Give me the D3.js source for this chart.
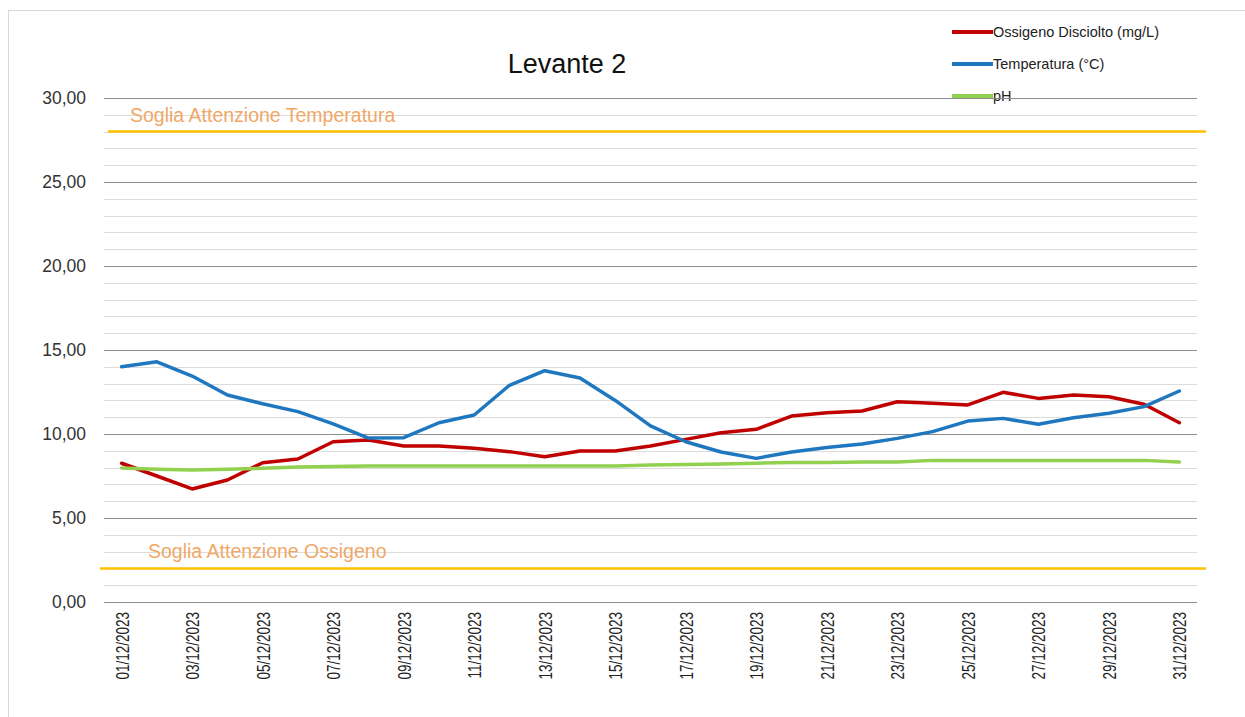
<!DOCTYPE html>
<html>
<head>
<meta charset="utf-8">
<script src="https://cdn.jsdelivr.net/npm/d3@7"></script>
<style>
  body { margin: 0; background: #fff; }
  svg text { font-family: "Liberation Sans", Arial, sans-serif; }
</style>
</head>
<body>
<script>
var dates = [
  "01/12/2023", "02/12/2023", "03/12/2023", "04/12/2023", "05/12/2023", "06/12/2023",
  "07/12/2023", "08/12/2023", "09/12/2023", "10/12/2023", "11/12/2023", "12/12/2023",
  "13/12/2023", "14/12/2023", "15/12/2023", "16/12/2023", "17/12/2023", "18/12/2023",
  "19/12/2023", "20/12/2023", "21/12/2023", "22/12/2023", "23/12/2023", "24/12/2023",
  "25/12/2023", "26/12/2023", "27/12/2023", "28/12/2023", "29/12/2023", "30/12/2023",
  "31/12/2023"
];

var ossigeno = [8.26, 7.5, 6.73, 7.26, 8.29, 8.51, 9.54, 9.64, 9.29, 9.29, 9.15, 8.95,
  8.65, 8.99, 8.99, 9.29, 9.68, 10.08, 10.28, 11.07, 11.27, 11.37, 11.92, 11.83,
  11.73, 12.48, 12.12, 12.32, 12.22, 11.77, 10.67];

var temperatura = [14.0, 14.3, 13.45, 12.32, 11.8, 11.33, 10.6, 9.76, 9.78, 10.67, 11.13, 12.9,
  13.77, 13.33, 12.0, 10.48, 9.54, 8.93, 8.55, 8.93, 9.2, 9.4, 9.74, 10.14,
  10.77, 10.93, 10.58, 10.97, 11.23, 11.63, 12.56];

var ph = [7.98, 7.9, 7.86, 7.9, 7.96, 8.04, 8.07, 8.1, 8.1, 8.1, 8.1, 8.1,
  8.1, 8.1, 8.1, 8.15, 8.18, 8.22, 8.26, 8.3, 8.3, 8.33, 8.33, 8.43,
  8.43, 8.43, 8.43, 8.43, 8.43, 8.43, 8.33];

var seriesNames = ["Ossigeno Disciolto (mg/L)", "Temperatura (°C)", "pH"];
var seriesColors = ["#c00000", "#1f77c0", "#92d050"];

var yTicks = [0, 5, 10, 15, 20, 25, 30];
var thresholds = [
  { label: "Soglia Attenzione Temperatura", value: 28 },
  { label: "Soglia Attenzione Ossigeno", value: 2 }
];

var width = 1245,
  height = 717;
var plot = { left: 104, right: 1197, top: 98, bottom: 602 };

var svg = d3.select("body").append("svg")
  .attr("width", width)
  .attr("height", height);

// chart frame
svg.append("rect")
  .attr("x", 8.5).attr("y", 10.5)
  .attr("width", 1260).attr("height", 720)
  .attr("fill", "#fff")
  .attr("stroke", "#d9d9d9");

var x = d3.scalePoint()
  .domain(dates)
  .range([plot.left, plot.right])
  .padding(0.5);

var y = d3.scaleLinear()
  .domain([0, 30])
  .range([plot.bottom, plot.top]);

// legend (drawn under the gridlines, like the original)
var legend = svg.append("g").attr("class", "legend");
seriesNames.forEach(function (name, i) {
  var ly = 32 + i * 32;
  legend.append("line")
    .attr("x1", 952).attr("x2", 993)
    .attr("y1", ly).attr("y2", ly)
    .attr("stroke", seriesColors[i])
    .attr("stroke-width", 4);
  legend.append("text")
    .attr("x", 993).attr("y", ly + 5)
    .attr("font-size", 14.5)
    .attr("fill", "#222")
    .text(name);
});

// minor gridlines every unit
svg.append("g")
  .selectAll("line")
  .data(d3.range(1, 30).filter(function (d) { return d % 5 !== 0; }))
  .join("line")
  .attr("x1", plot.left).attr("x2", plot.right)
  .attr("y1", function (d) { return Math.round(y(d)) + 0.5; })
  .attr("y2", function (d) { return Math.round(y(d)) + 0.5; })
  .attr("stroke", "#dcdcdc");

// major gridlines + y labels
var yAxis = d3.axisLeft(y)
  .tickValues(yTicks)
  .tickSize(-(plot.right - plot.left))
  .tickPadding(18)
  .tickFormat(function (d) { return d3.format(".2f")(d).replace(".", ","); });

svg.append("g")
  .attr("transform", "translate(" + plot.left + ",0)")
  .call(yAxis)
  .call(function (g) {
    g.select(".domain").remove();
    g.selectAll(".tick line").attr("stroke", "#8c8c8c");
    g.selectAll(".tick text")
      .attr("font-size", 17.5)
      .attr("font-family", "Liberation Sans, Arial, sans-serif")
      .attr("fill", "#333");
  });

// x labels, every other day
var xAxis = d3.axisBottom(x)
  .tickValues(dates.filter(function (d, i) { return i % 2 === 0; }))
  .tickSize(0)
  .tickPadding(0);

svg.append("g")
  .attr("transform", "translate(0," + plot.bottom + ")")
  .call(xAxis)
  .call(function (g) {
    g.select(".domain").remove();
    g.selectAll(".tick text")
      .attr("transform", "rotate(-90) scale(1,1.4)")
      .attr("text-anchor", "end")
      .attr("x", -10)
      .attr("y", 0)
      .attr("dy", "0.35em")
      .attr("font-size", 13.5)
      .attr("font-family", "Liberation Sans, Arial, sans-serif")
      .attr("fill", "#222");
  });

// threshold lines and labels
var thr = svg.append("g").attr("class", "thresholds");
thr.selectAll("line")
  .data(thresholds)
  .join("line")
  .attr("x1", function (d, i) { return i === 0 ? plot.left + 4 : plot.left - 4; })
  .attr("x2", plot.right + 9)
  .attr("y1", function (d) { return y(d.value); })
  .attr("y2", function (d) { return y(d.value); })
  .attr("stroke", "#ffc000")
  .attr("stroke-width", 2.5);

thr.selectAll("text")
  .data(thresholds)
  .join("text")
  .attr("x", function (d, i) { return i === 0 ? 130 : 148; })
  .attr("y", function (d) { return y(d.value) - 10; })
  .attr("font-size", 19.5)
  .attr("fill", "#f0a868")
  .text(function (d) { return d.label; });

// title
svg.append("text")
  .attr("x", 567).attr("y", 73)
  .attr("text-anchor", "middle")
  .attr("font-size", 27)
  .attr("fill", "#111")
  .text("Levante 2");

// series lines
var line = d3.line()
  .x(function (d, i) { return x(dates[i]); })
  .y(function (d) { return y(d); });

[ossigeno, temperatura, ph].forEach(function (values, i) {
  svg.append("path")
    .datum(values)
    .attr("fill", "none")
    .attr("stroke", seriesColors[i])
    .attr("stroke-width", 3.5)
    .attr("stroke-linejoin", "round")
    .attr("stroke-linecap", "round")
    .attr("d", line);
});
</script>
</body>
</html>
